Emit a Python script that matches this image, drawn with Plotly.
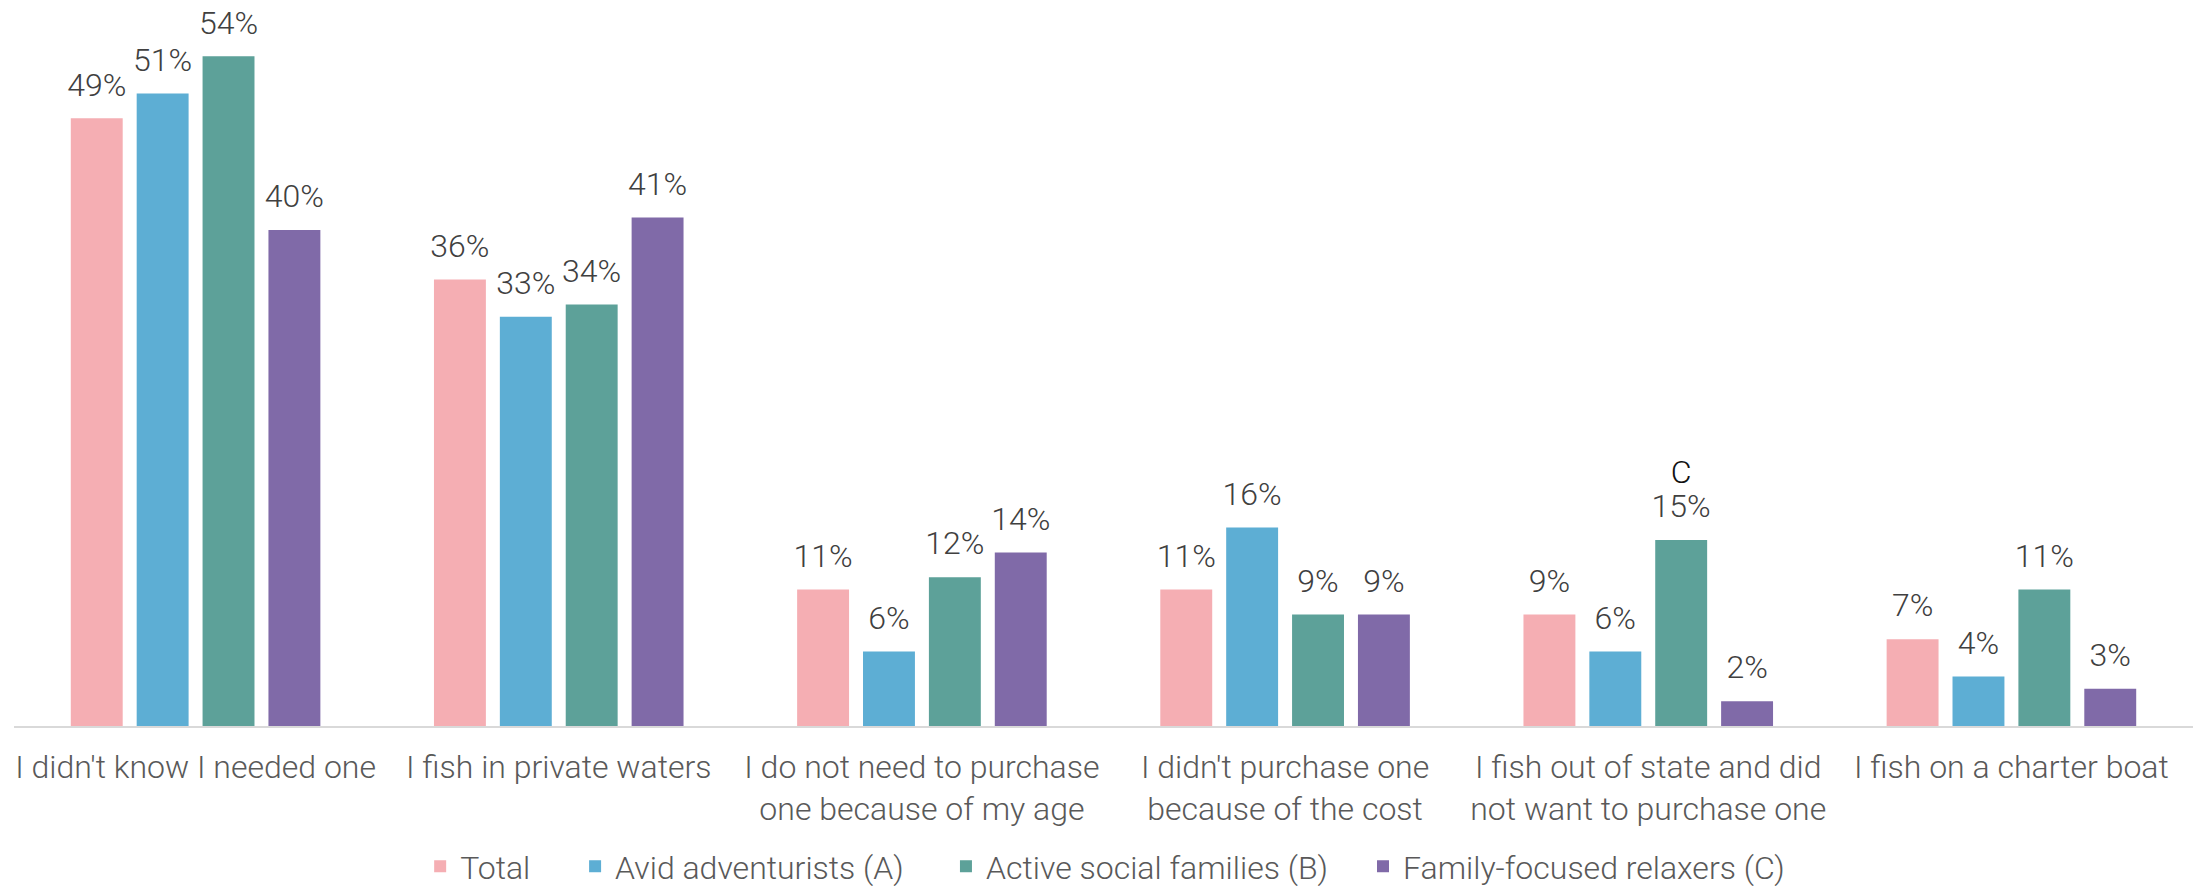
"""Reasons for not purchasing a fishing licence, by segment — grouped bar chart."""

import plotly.graph_objects as go

categories = [
    "I didn't know I needed one",
    "I fish in private waters",
    "I do not need to purchase<br>one because of my age",
    "I didn't purchase one<br>because of the cost",
    "I fish out of state and did<br>not want to purchase one",
    "I fish on a charter boat",
]

series_names = [
    "Total",
    "Avid adventurists (A)",
    "Active social families (B)",
    "Family-focused relaxers (C)",
]

total = [49, 36, 11, 11, 9, 7]
avid_adventurists = [51, 33, 6, 16, 6, 4]
active_social_families = [54, 34, 12, 9, 15, 11]
family_focused_relaxers = [40, 41, 14, 9, 2, 3]

# significance letters shown above the value labels
sig_letters = [
    ["", "", "", "", "", ""],
    ["", "", "", "", "", ""],
    ["", "", "", "", "C", ""],
    ["", "", "", "", "", ""],
]

series_values = [total, avid_adventurists, active_social_families, family_focused_relaxers]
colors = ["#F5AEB3", "#5DAED4", "#5DA199", "#806AA8"]

FONT = "Roboto Light, Roboto"
LABEL_GREY = "#404040"
TEXT_GREY = "#595959"

# legend entries sit at uneven spots along the bottom, one legend per series
legend_x = [0.1864, 0.2575, 0.4277, 0.6191]
legend_ids = ["legend", "legend2", "legend3", "legend4"]

fig = go.Figure()
for i, (name, vals, letters, col) in enumerate(
        zip(series_names, series_values, sig_letters, colors)):
    fig.add_trace(go.Bar(
        x=categories,
        y=vals,
        name=name,
        marker_color=col,
        marker_line_width=0,
        offsetgroup=str(i),
        legend=legend_ids[i],
        hoverinfo="skip",
    ))
    # value labels as invisible markers so the text gap above the bar can be tuned
    fig.add_trace(go.Scatter(
        x=categories,
        y=vals,
        mode="markers+text",
        text=[f"{v}%" for v in vals],
        textposition="top center",
        textfont=dict(family=FONT, size=32, color=LABEL_GREY, weight=300),
        marker=dict(size=22, opacity=0, color=col),
        offsetgroup=str(i),
        showlegend=False,
        cliponaxis=False,
        hoverinfo="skip",
    ))
    # significance letters, one step higher
    fig.add_trace(go.Scatter(
        x=categories,
        y=vals,
        mode="markers+text",
        text=letters,
        textposition="top center",
        textfont=dict(family=FONT, size=32, color="#111111", weight=300),
        marker=dict(size=76, opacity=0, color=col),
        offsetgroup=str(i),
        showlegend=False,
        cliponaxis=False,
        hoverinfo="skip",
    ))

legend_common = dict(
    orientation="h",
    xanchor="left", yanchor="middle",
    y=-0.1956,
    font=dict(family=FONT, size=32, color=TEXT_GREY, weight=300),
    bgcolor="rgba(0,0,0,0)",
    itemwidth=30,
)

fig.update_layout(
    barmode="group",
    bargap=0.2743,
    bargroupgap=0.212,
    scattermode="group",
    scattergap=0.2743,
    width=2206,
    height=886,
    margin=dict(l=6, r=21, t=0, b=160),
    paper_bgcolor="white",
    plot_bgcolor="white",
    font=dict(family=FONT, size=32, color=TEXT_GREY, weight=300),
    showlegend=True,
)
for lid, lx in zip(legend_ids, legend_x):
    fig.update_layout({lid: dict(legend_common, x=lx)})

fig.update_xaxes(
    showline=True, linecolor="#D9D9D9", linewidth=2,
    ticks="outside", ticklen=12, tickcolor="rgba(0,0,0,0)",
    tickfont=dict(family=FONT, size=32, color=TEXT_GREY, weight=300),
    showgrid=False,
)
fig.update_yaxes(
    range=[0, 57.9],
    visible=False,
    showgrid=False,
    zeroline=False,
)

fig.write_html("out.html")
